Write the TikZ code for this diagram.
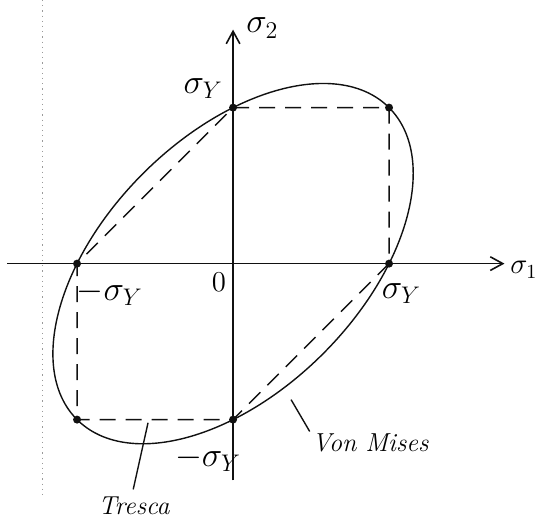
\documentclass[tikz,border=0pt]{standalone}
\usepackage{amsmath,amssymb}
\usepackage{xcolor}
\usepackage{tikz}
\usetikzlibrary{arrows.meta,calc,positioning}
\definecolor{ink}{HTML}{111111}
\definecolor{scan}{HTML}{9A9A9A}

\begin{document}
\begin{tikzpicture}[x=78pt,y=78pt,
  ax/.style={-{Straight Barb[length=2.2mm,width=2.4mm]},line width=.8pt,ink},
  pt/.style={circle,fill=ink,inner sep=0pt,minimum size=4pt},
  tr/.style={dashed,dash pattern=on 8pt off 5pt,line width=.7pt,ink},
  vm/.style={line width=.7pt,ink},
  lab/.style={font=\LARGE,inner sep=1pt},
  txt/.style={font=\fontsize{13}{15}\selectfont\itshape,inner sep=1pt},
  lead/.style={line width=.7pt,ink}
]
\useasboundingbox (-1.494,-1.686) rectangle (1.942,1.69);
% scanner edge
\draw[scan,dotted,line width=.6pt] (-1.224,1.69) -- (-1.224,-1.50);
% axes
\coordinate (xl) at (-1.449,0);
\coordinate (xr) at (1.74,0);
\coordinate (yb) at (0,-1.39);
\coordinate (yt) at (0,1.50);
\draw[ax] (xl) -- (xr);
\draw[ax] (yb) -- (yt);
\node[lab,font=\Large,anchor=west,inner sep=0pt] (s1) at (1.775,-0.04) {$\sigma_1$};
\node[lab,anchor=south west] (s2) at (0.07,1.43) {$\sigma_2$};
% yield points
\node[pt] (A) at (1,0) {};
\node[pt] (B) at (1,1) {};
\node[pt] (C) at (0,1) {};
\node[pt] (D) at (-1,0) {};
\node[pt] (E) at (-1,-1) {};
\node[pt] (F) at (0,-1) {};
% Tresca hexagon
\draw[tr] (C.center) -- (B.center) -- (A.center) -- (F.center) -- (E.center) -- (D.center) -- cycle;
% von Mises ellipse
\draw[vm,rotate=45] (0,0) ellipse (1.4142 and 0.8165);
% labels
\node[lab] (syt) at (-0.192,1.12) {$\sigma_Y$};
\node[lab] (syr) at (1.08,-0.19) {$\sigma_Y$};
\node[lab] (syl) at (-0.79,-0.19) {$-\sigma_Y$};
\node[lab,font=\Large] (o) at (-0.09,-0.12) {$0$};
\node[lab] (syb) at (-0.16,-1.25) {$-\sigma_Y$};
\node[txt] (vmt) at (0.88,-1.15) {Von Mises};
\node[txt] (trt) at (-0.635,-1.55) {Tresca};
% leaders
\coordinate (vmp) at (0.372,-0.872);
\coordinate (trp) at (-0.545,-1.02);
\draw[lead] (vmp) -- (vmt.north west);
\draw[lead] (trp) -- ($(trt.north)+(-0.005,0.03)$);
\end{tikzpicture}
\end{document}
